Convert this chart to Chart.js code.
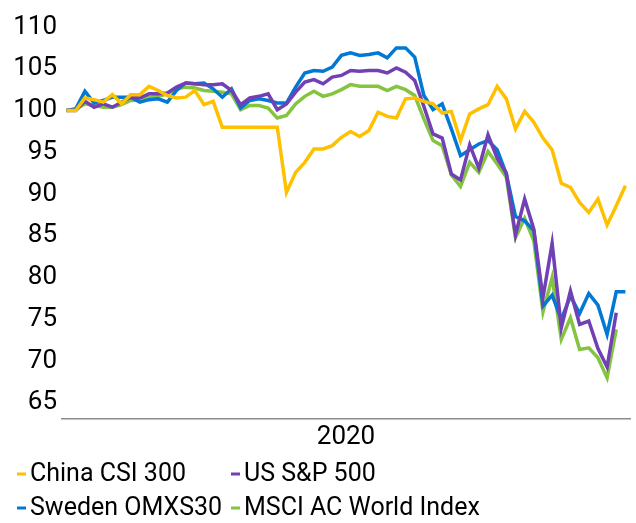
<!DOCTYPE html>
<html>
<head>
<meta charset="utf-8">
<script src="https://cdn.jsdelivr.net/npm/chart.js@4/dist/chart.umd.min.js"></script>
<style>
  html, body { margin: 0; padding: 0; background: #fff; }
  #wrap { width: 636px; height: 523px; }
</style>
</head>
<body>
<div id="wrap"><canvas id="line-chart" width="636" height="523"></canvas></div>
<script>
// 交易日 (2019-12-31 ~ 2020-03-25)
const dates = [
    '2019-12-31', '2020-01-01', '2020-01-02', '2020-01-03', '2020-01-06', '2020-01-07', '2020-01-08',
    '2020-01-09', '2020-01-10', '2020-01-13', '2020-01-14', '2020-01-15', '2020-01-16', '2020-01-17',
    '2020-01-20', '2020-01-21', '2020-01-22', '2020-01-23', '2020-01-24', '2020-01-27', '2020-01-28',
    '2020-01-29', '2020-01-30', '2020-01-31', '2020-02-03', '2020-02-04', '2020-02-05', '2020-02-06',
    '2020-02-07', '2020-02-10', '2020-02-11', '2020-02-12', '2020-02-13', '2020-02-14', '2020-02-17',
    '2020-02-18', '2020-02-19', '2020-02-20', '2020-02-21', '2020-02-24', '2020-02-25', '2020-02-26',
    '2020-02-27', '2020-02-28', '2020-03-02', '2020-03-03', '2020-03-04', '2020-03-05', '2020-03-06',
    '2020-03-09', '2020-03-10', '2020-03-11', '2020-03-12', '2020-03-13', '2020-03-16', '2020-03-17',
    '2020-03-18', '2020-03-19', '2020-03-20', '2020-03-23', '2020-03-24', '2020-03-25'
];

const seriesNames = ['China CSI 300', 'US S&P 500', 'Sweden OMXS30', 'MSCI AC World Index'];
const xTitle = '2020';
const yTicks = [65, 70, 75, 80, 85, 90, 95, 100, 105, 110];

const chinaCsi300 = [
    100.0, 100.0, 101.5, 101.3, 101.0, 101.9, 100.8, 101.9, 101.9, 102.9,
    102.4, 101.8, 101.5, 101.6, 102.4, 100.7, 101.1, 98.0, 98.0, 98.0,
    98.0, 98.0, 98.0, 98.0, 90.2, 92.6, 93.8, 95.4, 95.4, 95.8,
    96.8, 97.5, 96.9, 97.6, 99.8, 99.3, 99.1, 101.4, 101.5, 101.1,
    100.8, 99.7, 99.9, 96.4, 99.6, 100.2, 100.7, 102.9, 101.4, 97.8,
    99.9, 98.6, 96.7, 95.3, 91.3, 90.8, 89.0, 87.8, 89.4, 86.3,
    88.6, 91.0
];

const usSp500 = [
    100.0, 100.0, 101.1, 100.4, 100.8, 100.4, 101.0, 101.6, 101.5, 102.0,
    102.0, 102.1, 102.8, 103.3, 103.2, 103.1, 103.1, 103.2, 102.4, 100.7,
    101.5, 101.7, 102.0, 100.1, 100.8, 102.2, 103.4, 103.7, 103.2, 104.0,
    104.2, 104.8, 104.7, 104.8, 104.8, 104.5, 105.1, 104.6, 103.6, 100.5,
    97.2, 96.7, 92.4, 91.7, 95.9, 93.1, 97.1, 94.3, 92.5, 85.1,
    89.4, 85.8, 77.6, 84.1, 74.0, 78.4, 74.4, 74.8, 71.5, 69.3,
    75.8, null
];

const swedenOmxs30 = [
    100.0, 100.2, 102.3, 100.9, 101.2, 101.6, 101.6, 101.6, 101.0, 101.3,
    101.4, 101.0, 102.4, 103.3, 103.2, 103.3, 102.6, 101.6, 102.6, 100.3,
    101.2, 101.4, 101.2, 100.9, 100.9, 102.8, 104.5, 104.8, 104.7, 105.2,
    106.6, 106.9, 106.6, 106.7, 106.9, 106.3, 107.5, 107.5, 106.4, 101.8,
    100.1, 100.8, 97.8, 94.6, 95.3, 96.0, 96.4, 95.3, 92.4, 87.3,
    86.8, 85.6, 76.6, 77.9, 75.0, 77.8, 75.7, 78.1, 76.7, 73.2,
    78.3, 78.3
];

const msciAcwi = [
    100.0, 100.2, 100.8, 100.6, 100.4, 100.4, 100.7, 101.2, 101.3, 101.6,
    101.7, 102.0, 102.6, 102.8, 102.7, 102.4, 102.3, 102.2, 102.0, 100.1,
    100.6, 100.6, 100.3, 99.1, 99.4, 100.8, 101.7, 102.3, 101.7, 102.0,
    102.5, 103.1, 102.9, 102.9, 102.9, 102.4, 102.9, 102.5, 101.8, 99.0,
    96.4, 95.8, 92.3, 90.9, 93.8, 92.6, 95.1, 93.6, 92.0, 84.8,
    87.1, 84.4, 75.9, 80.0, 72.6, 75.2, 71.4, 71.6, 70.4, 68.0,
    73.8, null
];

const seriesColors = ['#FFC000', '#7040B4', '#0078D4', '#84C440'];
const fontFamily = 'Roboto, "Liberation Sans", sans-serif';

// 两列图例 (Excel 样式)
const columnLegend = {
    id: 'columnLegend',
    afterDraw(chart) {
        const ctx = chart.ctx;
        const colX = [17, 231];
        const rowY = [474, 508];
        ctx.save();
        ctx.font = `25px ${fontFamily}`;
        ctx.textBaseline = 'middle';
        chart.data.datasets.forEach((ds, i) => {
            const x = colX[i % 2];
            const y = rowY[Math.floor(i / 2)];
            ctx.strokeStyle = ds.borderColor;
            ctx.lineWidth = 3;
            ctx.beginPath();
            ctx.moveTo(x, y);
            ctx.lineTo(x + 9, y);
            ctx.stroke();
            ctx.fillStyle = '#000';
            ctx.fillText(ds.label, x + 13, y + 1);
        });
        ctx.restore();
    }
};

const allSeries = [chinaCsi300, usSp500, swedenOmxs30, msciAcwi];

const data = {
    labels: dates,
    datasets: allSeries.map((values, i) => ({
        label: seriesNames[i],
        data: values,
        borderColor: seriesColors[i],
        backgroundColor: seriesColors[i],
        borderWidth: 3.5,
        pointRadius: 0,
        tension: 0,
        fill: false
    }))
};

const options = {
    responsive: false,
    animation: false,
    devicePixelRatio: 1,
    layout: {
        padding: { left: 0, right: 6, top: 27, bottom: 70 }
    },
    plugins: {
        legend: { display: false },
        tooltip: { enabled: false }
    },
    scales: {
        x: {
            offset: true,
            grid: { display: false, drawTicks: false },
            border: { display: true, color: '#8c8c8c', width: 1.5 },
            ticks: { display: false },
            title: {
                display: true,
                text: xTitle,
                color: '#000',
                font: { family: fontFamily, size: 26 },
                padding: { top: 3, bottom: 0 }
            }
        },
        y: {
            min: 63.1,
            max: 110,
            grid: { display: false, drawTicks: false },
            border: { display: false },
            afterBuildTicks: (scale) => {
                scale.ticks = yTicks.map(v => ({ value: v }));
            },
            afterFit: (scale) => {
                scale.width = 62;
            },
            ticks: {
                color: '#000',
                padding: 5,
                font: { family: fontFamily, size: 26 }
            }
        }
    }
};

window.lineChart = new Chart(document.getElementById('line-chart'), {
    type: 'line',
    data: data,
    options: options,
    plugins: [columnLegend]
});
</script>
</body>
</html>
